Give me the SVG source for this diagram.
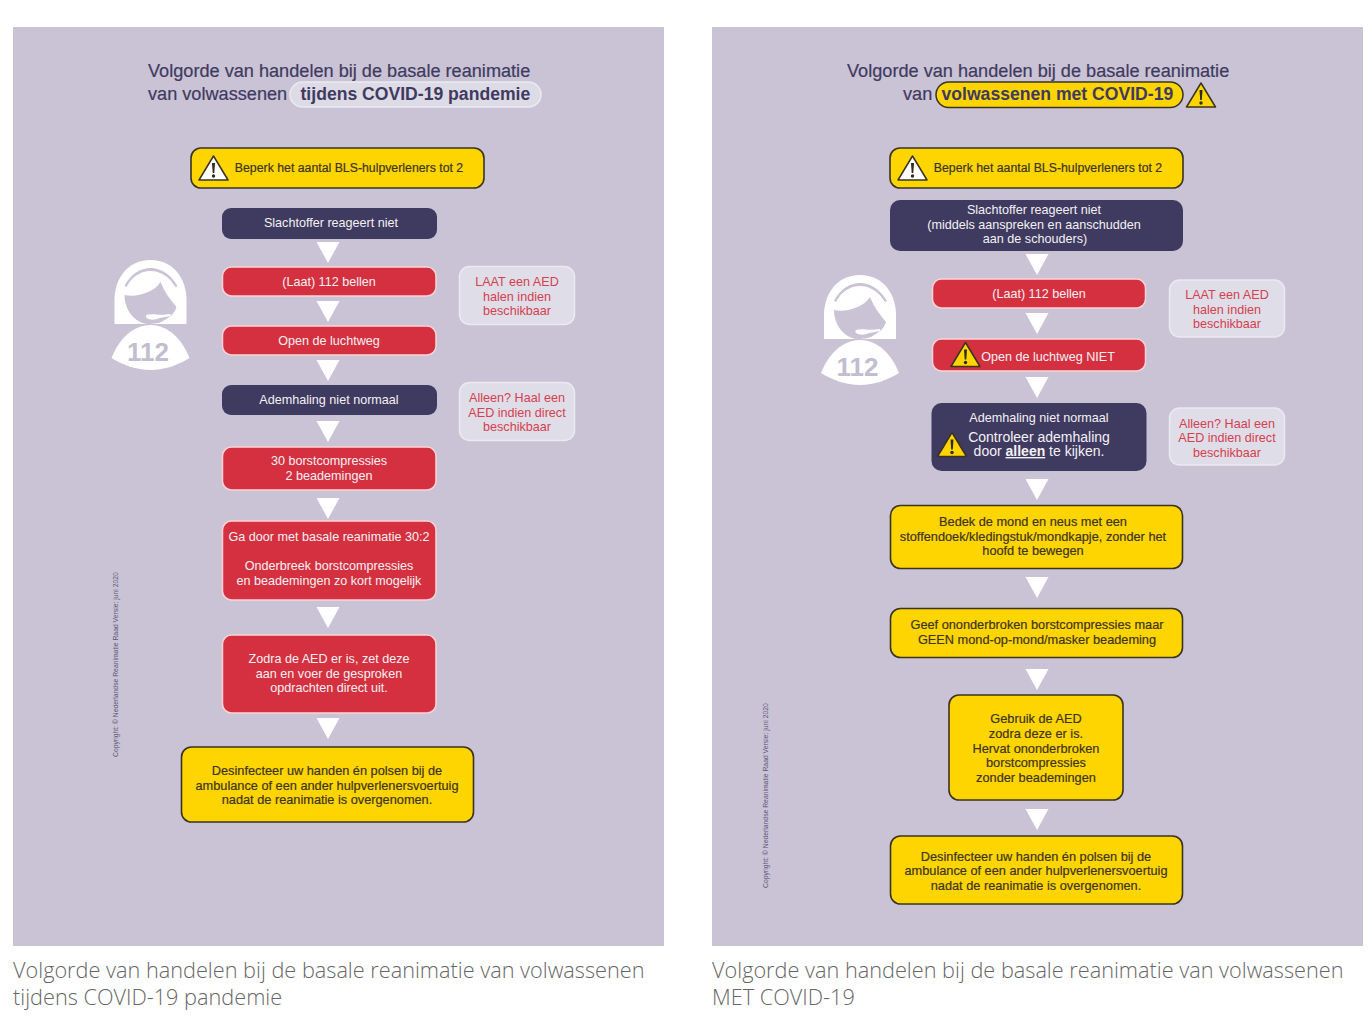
<svg xmlns="http://www.w3.org/2000/svg" width="1372" height="1017" viewBox="0 0 1372 1017">
<style>
text{font-family:"Liberation Sans",Arial,sans-serif}
.bg{fill:#c9c3d5}
.t{font-size:18.15px;fill:#3f3a60;stroke:#3f3a60;stroke-width:.2}
.tb{font-size:17.6px;font-weight:bold;fill:#3f3a60}
.y{fill:#ffd500;stroke:#3a3320;stroke-width:1.6}
.d{fill:#3f3a60}
.r{fill:#d5303f;stroke:#fbd3d6;stroke-width:1.5}
.n{fill:#dfdde8;stroke:#ece9f1;stroke-width:1.5}
.m{font-size:12.6px;text-anchor:middle}
.w{fill:#f4f1f4}
.k{fill:#3d3420;stroke:#3d3420;stroke-width:.2;font-size:12.75px}
.k2{font-size:12.3px}
.p{fill:#d5404e}
.a{fill:#fff}
.c{font-family:"Open Sans",sans-serif;font-size:21.7px;fill:#666;font-weight:300}
.cr{font-size:6.8px;fill:#5a5678}
.f{font-size:26px;font-weight:bold;fill:#c3bdd0;text-anchor:middle}
</style>
<defs>
<g id="warn"><path d="M0-14 14.500 10H-14.500Z" fill="var(--wf,#fff)" stroke="#3a3320" stroke-width="1.500" stroke-linejoin="round"/><path d="M-1.500-7H1.500L.8 3H-.8Z" fill="#2e2a1c"/><circle cx="0" cy="6" r="1.700" fill="#2e2a1c"/></g>
<polygon id="arr" points="-11.500,0 11.500,0 0,21" class="a"/>
<g id="person">
<path d="M0-90C-24-90-36-70-36-50V-26H36V-50C36-70 24-90 0-90Z" fill="#fff"/>
<path d="M-26-64C-20-76-10-82 0-82C10-82 20-76 27-64L25-63C19-73 10-79 0-79C-10-79-19-73-24-63Z" fill="#c9c3d5"/>
<path d="M-26-55C-14-52 4-58 10-68C14-58 20-50 26-43C24-36 18-32 14-30C10-26 0-26-4-26C-16-28-26-40-26-55Z" fill="#c9c3d5"/>
<path d="M-4-35C2-37 8-34 20-36L20-34L9-32C5-30 0-30-2-31C-5-32-5-34-4-35Z" fill="#fff"/>
<path d="M0-25C-18-25-32-10-39 8C-28 15-14 20 0 20C14 20 28 15 39 8C32-10 18-25 0-25Z" fill="#fff"/>
<text class="f" x="-2.500" y="10.500">112</text>
</g>
</defs>
<rect width="1372" height="1017" fill="#fff"/>
<rect class="bg" x="13" y="27" width="651" height="919"/>
<rect class="bg" x="712" y="27" width="651" height="919"/>

<g id="connectors">
<use href="#arr" x="328" y="242"/><use href="#arr" x="328" y="301"/><use href="#arr" x="328" y="360"/><use href="#arr" x="328" y="421"/><use href="#arr" x="328" y="498"/><use href="#arr" x="328" y="607"/><use href="#arr" x="328" y="718"/>
<use href="#arr" x="1037" y="254"/><use href="#arr" x="1037" y="313"/><use href="#arr" x="1037" y="377"/><use href="#arr" x="1037" y="479"/><use href="#arr" x="1037" y="577"/><use href="#arr" x="1037" y="669"/><use href="#arr" x="1037" y="809"/>
</g>

<g id="left-title">
<text class="t" x="148" y="76.500">Volgorde van handelen bij de basale reanimatie</text>
<text class="t" x="148" y="99.500">van volwassenen</text>
<rect x="290" y="82" width="251" height="25" rx="12.500" fill="#dddbe6" stroke="#eceaf1" stroke-width="1.500"/>
<text class="tb" x="300.500" y="99.500">tijdens COVID-19 pandemie</text>
</g>
<g id="l-limit"><rect class="y" x="191" y="148" width="293" height="40" rx="10"/><use href="#warn" x="213.500" y="170"/><text class="m k k2" x="349" y="172">Beperk het aantal BLS-hulpverleners tot 2</text></g>
<g id="l-slachtoffer"><rect class="d" x="222" y="208" width="215" height="31" rx="9"/><text class="m w" x="331" y="227">Slachtoffer reageert niet</text></g>
<g id="l-112"><rect class="r" x="222.500" y="267" width="213.500" height="29" rx="9"/><text class="m w" x="329" y="286">(Laat) 112 bellen</text></g>
<g id="l-open"><rect class="r" x="222.500" y="326" width="213.500" height="29" rx="9"/><text class="m w" x="329" y="345">Open de luchtweg</text></g>
<g id="l-adem"><rect class="d" x="222" y="385" width="215" height="30" rx="9"/><text class="m w" x="329" y="404">Ademhaling niet normaal</text></g>
<g id="l-30"><rect class="r" x="222.500" y="447" width="213.500" height="43" rx="9"/><text class="m w" x="329" y="465">30 borstcompressies</text><text class="m w" x="329" y="480">2 beademingen</text></g>
<g id="l-gadoor"><rect class="r" x="222.500" y="521" width="213.500" height="79" rx="9"/><text class="m w" x="329" y="541">Ga door met basale reanimatie 30:2</text><text class="m w" x="329" y="570">Onderbreek borstcompressies</text><text class="m w" x="329" y="585">en beademingen zo kort mogelijk</text></g>
<g id="l-aed"><rect class="r" x="222.500" y="635" width="213.500" height="78" rx="9"/><text class="m w" x="329" y="663">Zodra de AED er is, zet deze</text><text class="m w" x="329" y="678">aan en voer de gesproken</text><text class="m w" x="329" y="692">opdrachten direct uit.</text></g>
<g id="l-desinfecteer"><rect class="y" x="181.500" y="747" width="292" height="75" rx="10"/><text class="m k" x="327" y="775">Desinfecteer uw handen én polsen bij de</text><text class="m k" x="327" y="790">ambulance of een ander hulpverlenersvoertuig</text><text class="m k" x="327" y="804">nadat de reanimatie is overgenomen.</text></g>
<g id="l-note1"><rect class="n" x="459.500" y="266.500" width="115" height="58" rx="10"/><text class="m p" x="517" y="286">LAAT een AED</text><text class="m p" x="517" y="301">halen indien</text><text class="m p" x="517" y="315">beschikbaar</text></g>
<g id="l-note2"><rect class="n" x="459.500" y="382.500" width="115" height="58" rx="10"/><text class="m p" x="517" y="402">Alleen? Haal een</text><text class="m p" x="517" y="417">AED indien direct</text><text class="m p" x="517" y="431">beschikbaar</text></g>
<use id="l-person" href="#person" x="150.500" y="350"/>
<text id="l-copyright" class="cr" transform="translate(118 757) rotate(-90)">Copyright: © Nederlandse Reanimatie Raad   Versie: juni 2020</text>

<g id="right-title">
<text class="t" x="847" y="76.500">Volgorde van handelen bij de basale reanimatie</text>
<text class="t" x="903" y="99.500">van</text>
<rect x="936" y="82" width="247" height="25.500" rx="12.700" fill="#ffd500" stroke="#3a3320" stroke-width="1.500"/>
<text class="tb" x="941.500" y="99.500">volwassenen met COVID-19</text>
<use href="#warn" x="1201" y="97" style="--wf:#ffd500"/>
</g>
<g id="r-limit"><rect class="y" x="890" y="148" width="293" height="40" rx="10"/><use href="#warn" x="912.500" y="170"/><text class="m k k2" x="1048" y="172">Beperk het aantal BLS-hulpverleners tot 2</text></g>
<g id="r-slachtoffer"><rect class="d" x="890" y="200" width="293" height="51" rx="10"/><text class="m w" x="1034" y="214">Slachtoffer reageert niet</text><text class="m w" x="1034" y="229">(middels aanspreken en aanschudden</text><text class="m w" x="1035" y="243">aan de schouders)</text></g>
<g id="r-112"><rect class="r" x="932.500" y="279" width="213" height="29" rx="9"/><text class="m w" x="1039" y="298">(Laat) 112 bellen</text></g>
<g id="r-open"><rect class="r" x="932.500" y="339" width="213" height="32" rx="9"/><use href="#warn" x="965.500" y="356.500" style="--wf:#ffd500"/><text class="m w" x="1048" y="361">Open de luchtweg NIET</text></g>
<g id="r-adem"><rect class="d" x="931.500" y="403" width="215" height="68" rx="10"/><text class="m w" x="1039" y="422">Ademhaling niet normaal</text><use href="#warn" x="952" y="446.500" style="--wf:#ffd500"/><text class="w" x="1039" y="442" font-size="14" text-anchor="middle">Controleer ademhaling</text><text class="w" x="1039" y="456" font-size="14" text-anchor="middle">door <tspan font-weight="bold" text-decoration="underline">alleen</tspan> te kijken.</text></g>
<g id="r-bedek"><rect class="y" x="890.500" y="505.500" width="292" height="63" rx="10"/><text class="m k" x="1033" y="526">Bedek de mond en neus met een</text><text class="m k" x="1033" y="541">stoffendoek/kledingstuk/mondkapje, zonder het</text><text class="m k" x="1033" y="555">hoofd te bewegen</text></g>
<g id="r-geef"><rect class="y" x="890.500" y="608.500" width="292" height="49" rx="10"/><text class="m k" x="1037" y="629">Geef ononderbroken borstcompressies maar</text><text class="m k" x="1037" y="644">GEEN mond-op-mond/masker beademing</text></g>
<g id="r-aed"><rect class="y" x="949" y="695" width="174" height="105" rx="10"/><text class="m k" x="1036" y="723">Gebruik de AED</text><text class="m k" x="1036" y="738">zodra deze er is.</text><text class="m k" x="1036" y="753">Hervat ononderbroken</text><text class="m k" x="1036" y="767">borstcompressies</text><text class="m k" x="1036" y="782">zonder beademingen</text></g>
<g id="r-desinfecteer"><rect class="y" x="890.500" y="836" width="292" height="68" rx="10"/><text class="m k" x="1036" y="861">Desinfecteer uw handen én polsen bij de</text><text class="m k" x="1036" y="875">ambulance of een ander hulpverlenersvoertuig</text><text class="m k" x="1036" y="890">nadat de reanimatie is overgenomen.</text></g>
<g id="r-note1"><rect class="n" x="1169.500" y="280" width="115" height="57" rx="10"/><text class="m p" x="1227" y="299">LAAT een AED</text><text class="m p" x="1227" y="314">halen indien</text><text class="m p" x="1227" y="328">beschikbaar</text></g>
<g id="r-note2"><rect class="n" x="1169.500" y="408" width="115" height="57" rx="10"/><text class="m p" x="1227" y="428">Alleen? Haal een</text><text class="m p" x="1227" y="442">AED indien direct</text><text class="m p" x="1227" y="457">beschikbaar</text></g>
<use id="r-person" href="#person" x="860" y="365"/>
<text id="r-copyright" class="cr" transform="translate(768 888) rotate(-90)">Copyright: © Nederlandse Reanimatie Raad   Versie: juni 2020</text>

<text class="c" x="13" y="978">Volgorde van handelen bij de basale reanimatie van volwassenen</text>
<text class="c" x="13" y="1005">tijdens COVID-19 pandemie</text>
<text class="c" x="712" y="978">Volgorde van handelen bij de basale reanimatie van volwassenen</text>
<text class="c" x="712" y="1005">MET COVID-19</text>
</svg>
